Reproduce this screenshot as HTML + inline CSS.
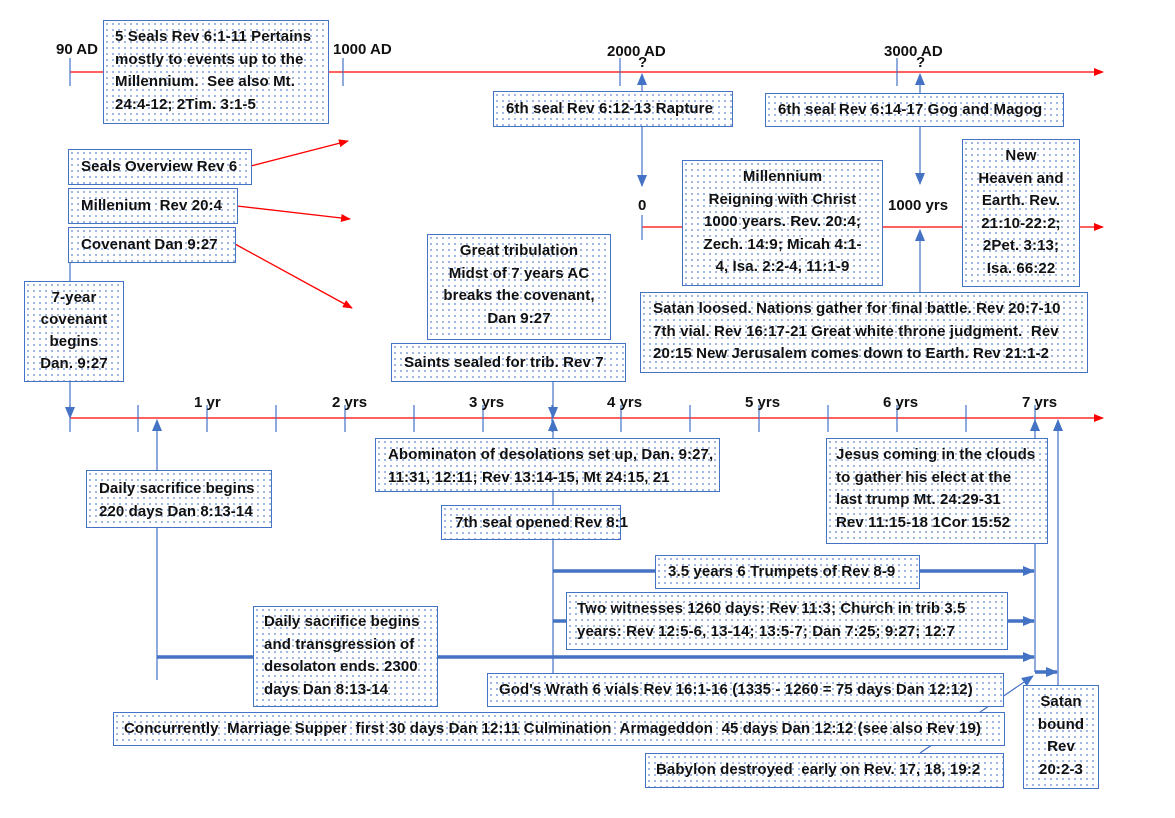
<!DOCTYPE html>
<html><head><meta charset="utf-8">
<style>
html,body{margin:0;padding:0;background:#fff;}
body{width:1175px;height:818px;position:relative;overflow:hidden;font-family:"Liberation Sans",sans-serif;}
svg{position:absolute;left:0;top:0;}
.b{position:absolute;box-sizing:border-box;border:1.3px solid #4472c4;
background-color:#fff;
background-image:radial-gradient(circle,#4a78c8 0.7px,transparent 0.9px);
background-size:6px 6px;
font-weight:bold;font-size:15px;line-height:23px;color:#111;white-space:nowrap;letter-spacing:0.1px;
padding:4px 0 0 12px;}
.c{text-align:center;padding-left:0;}
.t{position:absolute;font-weight:bold;font-size:15px;color:#111;white-space:nowrap;letter-spacing:0px;}
</style></head><body>
<svg width="1175" height="818" viewBox="0 0 1175 818">
<defs>
<marker id="ar" markerWidth="10" markerHeight="8" refX="9" refY="4" orient="auto" markerUnits="userSpaceOnUse"><path d="M0,0 L10,4 L0,8 z" fill="#f00"/></marker>
<marker id="ab" markerWidth="12" markerHeight="10" refX="11" refY="5" orient="auto" markerUnits="userSpaceOnUse"><path d="M0,0 L12,5 L0,10 z" fill="#4472c4"/></marker>
</defs>
<g stroke="#f00" stroke-width="1.3" fill="none">
<line x1="70" y1="72" x2="1103" y2="72" marker-end="url(#ar)"/>
<line x1="642" y1="227" x2="682" y2="227"/>
<line x1="882" y1="227" x2="962" y2="227"/>
<line x1="1079" y1="227" x2="1103" y2="227" marker-end="url(#ar)"/>
<line x1="70" y1="418" x2="1103" y2="418" marker-end="url(#ar)"/>
<line x1="251" y1="166" x2="348" y2="141" marker-end="url(#ar)"/>
<line x1="237" y1="206" x2="350" y2="219" marker-end="url(#ar)"/>
<line x1="235" y1="244" x2="352" y2="308" marker-end="url(#ar)"/>
</g>
<g stroke="#4472c4" stroke-width="1.2" fill="none">
<line x1="70" y1="58" x2="70" y2="86"/><line x1="343" y1="58" x2="343" y2="86"/>
<line x1="620" y1="58" x2="620" y2="86"/><line x1="897" y1="58" x2="897" y2="86"/>
<line x1="642" y1="215" x2="642" y2="240"/>
<line x1="70" y1="405" x2="70" y2="432"/><line x1="138" y1="405" x2="138" y2="432"/>
<line x1="207" y1="405" x2="207" y2="432"/><line x1="276" y1="405" x2="276" y2="432"/>
<line x1="345" y1="405" x2="345" y2="432"/><line x1="414" y1="405" x2="414" y2="432"/>
<line x1="483" y1="405" x2="483" y2="432"/><line x1="552" y1="405" x2="552" y2="432"/>
<line x1="621" y1="405" x2="621" y2="432"/><line x1="690" y1="405" x2="690" y2="432"/>
<line x1="759" y1="405" x2="759" y2="432"/><line x1="828" y1="405" x2="828" y2="432"/>
<line x1="897" y1="405" x2="897" y2="432"/><line x1="966" y1="405" x2="966" y2="432"/>
<line x1="1035" y1="405" x2="1035" y2="432"/>
<line x1="642" y1="91" x2="642" y2="74" marker-end="url(#ab)"/>
<line x1="920" y1="93" x2="920" y2="74" marker-end="url(#ab)"/>
<line x1="642" y1="126" x2="642" y2="186" marker-end="url(#ab)"/>
<line x1="920" y1="126" x2="920" y2="184" marker-end="url(#ab)"/>
<line x1="920" y1="292" x2="920" y2="230" marker-end="url(#ab)"/>
<line x1="70" y1="262" x2="70" y2="281"/>
<line x1="70" y1="381" x2="70" y2="418" marker-end="url(#ab)"/>
<line x1="553" y1="381" x2="553" y2="418" marker-end="url(#ab)"/>
<line x1="157" y1="470" x2="157" y2="420" marker-end="url(#ab)"/>
<line x1="157" y1="527" x2="157" y2="680"/>
<line x1="553" y1="438" x2="553" y2="420" marker-end="url(#ab)"/>
<line x1="553" y1="491" x2="553" y2="505"/>
<line x1="553" y1="539" x2="553" y2="673"/>
<line x1="1035" y1="438" x2="1035" y2="420" marker-end="url(#ab)"/>
<line x1="1035" y1="543" x2="1035" y2="672"/>
<line x1="1058" y1="685" x2="1058" y2="420" marker-end="url(#ab)"/>
<line x1="920" y1="753" x2="1033" y2="676" marker-end="url(#ab)"/>
</g>
<g stroke="#4472c4" stroke-width="3.5" fill="none">
<line x1="157" y1="657" x2="1034" y2="657" marker-end="url(#ab)"/>
<line x1="553" y1="571" x2="655" y2="571"/>
<line x1="919" y1="571" x2="1034" y2="571" marker-end="url(#ab)"/>
<line x1="553" y1="621" x2="566" y2="621"/>
<line x1="1007" y1="621" x2="1034" y2="621" marker-end="url(#ab)"/>
<line x1="1035" y1="672" x2="1057" y2="672" marker-end="url(#ab)"/>
</g>
</svg>

<div class="t" style="left:56px;top:41px">90 AD</div>
<div class="t" style="left:333px;top:41px">1000 AD</div>
<div class="t" style="left:607px;top:43px">2000 AD</div>
<div class="t" style="left:638px;top:54px">?</div>
<div class="t" style="left:884px;top:43px">3000 AD</div>
<div class="t" style="left:916px;top:54px">?</div>
<div class="t" style="left:638px;top:197px">0</div>
<div class="t" style="left:888px;top:197px">1000 yrs</div>
<div class="t" style="left:194px;top:394px">1 yr</div>
<div class="t" style="left:332px;top:394px">2 yrs</div>
<div class="t" style="left:469px;top:394px">3 yrs</div>
<div class="t" style="left:607px;top:394px">4 yrs</div>
<div class="t" style="left:745px;top:394px">5 yrs</div>
<div class="t" style="left:883px;top:394px">6 yrs</div>
<div class="t" style="left:1022px;top:394px">7 yrs</div>

<div class="b" style="left:103px;top:20px;width:226px;height:104px;line-height:22.5px;padding-left:11px;padding-top:5px">5 Seals Rev 6:1-11 Pertains<br>mostly to events up to the<br>Millennium.&nbsp; See also Mt.<br>24:4-12; 2Tim. 3:1-5</div>
<div class="b" style="left:68px;top:149px;width:184px;height:36px;padding-top:5px">Seals Overview Rev 6</div>
<div class="b" style="left:68px;top:188px;width:170px;height:36px;padding-top:5px">Millenium&nbsp; Rev 20:4</div>
<div class="b" style="left:68px;top:227px;width:168px;height:36px;padding-top:5px">Covenant Dan 9:27</div>
<div class="b c" style="left:24px;top:281px;width:100px;height:101px;line-height:22px;padding-top:5px">7-year<br>covenant<br>begins<br>Dan. 9:27</div>
<div class="b" style="left:493px;top:91px;width:240px;height:36px;padding-top:5px">6th seal Rev 6:12-13 Rapture</div>
<div class="b" style="left:765px;top:93px;width:299px;height:34px;padding-top:4px">6th seal Rev 6:14-17 Gog and Magog</div>
<div class="b c" style="left:682px;top:160px;width:201px;height:126px;line-height:22.5px;padding-top:5px">Millennium<br>Reigning with Christ<br>1000 years. Rev. 20:4;<br>Zech. 14:9; Micah 4:1-<br>4, Isa. 2:2-4, 11:1-9</div>
<div class="b c" style="left:962px;top:139px;width:118px;height:148px;line-height:22.5px;padding-top:5px">New<br>Heaven and<br>Earth. Rev.<br>21:10-22:2;<br>2Pet. 3:13;<br>Isa. 66:22</div>
<div class="b" style="left:640px;top:292px;width:448px;height:81px;line-height:22.5px;padding-top:5px">Satan loosed. Nations gather for final battle. Rev 20:7-10<br>7th vial. Rev 16:17-21 Great white throne judgment.&nbsp; Rev<br>20:15 New Jerusalem comes down to Earth. Rev 21:1-2</div>
<div class="b c" style="left:427px;top:234px;width:184px;height:106px;line-height:22.5px;padding-top:5px">Great tribulation<br>Midst of 7 years AC<br>breaks the covenant,<br>Dan 9:27</div>
<div class="b" style="left:391px;top:343px;width:235px;height:39px;padding-top:7px">Saints sealed for trib. Rev 7</div>
<div class="b" style="left:86px;top:470px;width:186px;height:58px;padding-top:6px">Daily sacrifice begins<br>220 days Dan 8:13-14</div>
<div class="b" style="left:375px;top:438px;width:345px;height:54px;padding-top:4px">Abominaton of desolations set up, Dan. 9:27,<br>11:31, 12:11; Rev 13:14-15, Mt 24:15, 21</div>
<div class="b" style="left:441px;top:505px;width:180px;height:35px;padding-top:5px;padding-left:13px">7th seal opened Rev 8:1</div>
<div class="b" style="left:826px;top:438px;width:222px;height:106px;line-height:22.5px;padding-top:5px;padding-left:9px">Jesus coming in the clouds<br>to gather his elect at the<br>last trump Mt. 24:29-31<br>Rev 11:15-18 1Cor 15:52</div>
<div class="b" style="left:655px;top:555px;width:265px;height:34px;padding-top:4px">3.5 years 6 Trumpets of Rev 8-9</div>
<div class="b" style="left:566px;top:592px;width:442px;height:58px;padding-top:4px;padding-left:10px">Two witnesses 1260 days: Rev 11:3; Church in trib 3.5<br>years: Rev 12:5-6, 13-14; 13:5-7; Dan 7:25; 9:27; 12:7</div>
<div class="b" style="left:253px;top:606px;width:185px;height:101px;line-height:22.5px;padding-top:4px;padding-left:10px">Daily sacrifice begins<br>and transgression of<br>desolaton ends. 2300<br>days Dan 8:13-14</div>
<div class="b" style="left:487px;top:673px;width:517px;height:34px;padding-top:4px;padding-left:11px">God's Wrath 6 vials Rev 16:1-16 (1335 - 1260 = 75 days Dan 12:12)</div>
<div class="b" style="left:113px;top:712px;width:892px;height:34px;padding-top:4px;padding-left:10px">Concurrently&nbsp; Marriage Supper&nbsp; first 30 days Dan 12:11 Culmination&nbsp; Armageddon&nbsp; 45 days Dan 12:12 (see also Rev 19)</div>
<div class="b" style="left:645px;top:753px;width:359px;height:35px;padding-top:4px;padding-left:10px">Babylon destroyed&nbsp; early on Rev. 17, 18, 19:2</div>
<div class="b c" style="left:1023px;top:685px;width:76px;height:104px;line-height:22.5px;padding-top:5px">Satan<br>bound<br>Rev<br>20:2-3</div>
</body></html>
